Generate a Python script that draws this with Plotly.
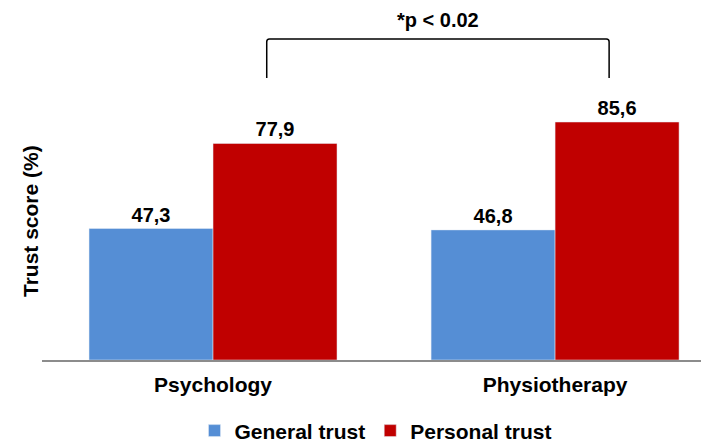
import plotly.graph_objects as go

categories = ['Psychology', 'Physiotherapy']
general_trust = [47.3, 46.8]
personal_trust = [77.9, 85.6]
sig_label = '*p < 0.02'

font = 'Liberation Sans, Arial, sans-serif'
xpos = list(range(len(categories)))


def fmt(v):
    return '<b>' + f'{v:.1f}'.replace('.', ',') + '</b>'


fig = go.Figure()
fig.add_trace(go.Bar(x=xpos, y=general_trust, name='<b>General trust</b>', marker_color='#558ED5',
                     text=[fmt(v) for v in general_trust], textposition='outside',
                     textfont=dict(family=font, size=20, color='black'), cliponaxis=False))
fig.add_trace(go.Bar(x=xpos, y=personal_trust, name='<b>Personal trust</b>', marker_color='#C00000',
                     text=[fmt(v) for v in personal_trust], textposition='outside',
                     textfont=dict(family=font, size=20, color='black'), cliponaxis=False))

# significance bracket (x in data units, y in paper units above the plot)
bx0, bx1 = 0.157, 1.158
ytop, ybot = 1.155, 1.014
r = 0.008
fig.add_shape(type='path', xref='x', yref='paper',
              path=f'M {bx0},{ybot} L {bx0},{ytop - 0.01} Q {bx0},{ytop} {bx0 + r},{ytop} '
                   f'L {bx1 - r},{ytop} Q {bx1},{ytop} {bx1},{ytop - 0.01} L {bx1},{ybot}',
              line=dict(color='black', width=1.5))
fig.add_annotation(x=(bx0 + bx1) / 2, y=1.223, xref='x', yref='paper', yanchor='middle',
                   text='<b>' + sig_label + '</b>',
                   showarrow=False, font=dict(family=font, size=20, color='black'))
# y axis title
fig.add_annotation(x=-0.018, y=0.5, xref='paper', yref='paper', xanchor='center', yanchor='middle',
                   text='<b>Trust score (%)</b>', textangle=-90, showarrow=False,
                   font=dict(family=font, size=21, color='black'))

fig.update_xaxes(range=[-0.5, 1.45], tickvals=xpos, ticktext=['<b>' + c + '</b>' for c in categories],
                 tickfont=dict(family=font, size=21, color='black'), showline=True,
                 linecolor='#8c8c8c', linewidth=1.5, ticks='', ticklabelstandoff=5,
                 showgrid=False, zeroline=False, automargin=False)
fig.update_yaxes(range=[0, 100], showticklabels=False, showgrid=False, zeroline=False,
                 showline=False, ticks='', automargin=False)
# page body keeps an 8px margin, so the figure is 8px smaller than the window
fig.update_layout(width=701, height=436, barmode='group', bargap=0.275, bargroupgap=0,
                  plot_bgcolor='white', paper_bgcolor='white',
                  margin=dict(l=34, r=0, t=74, b=84, autoexpand=False),
                  legend=dict(orientation='h', x=0.500, xanchor='center', y=-0.329, yanchor='bottom',
                              font=dict(family=font, size=21, color='black'),
                              itemwidth=30, tracegroupgap=0),
                  showlegend=True)
fig.write_html('out.html')
